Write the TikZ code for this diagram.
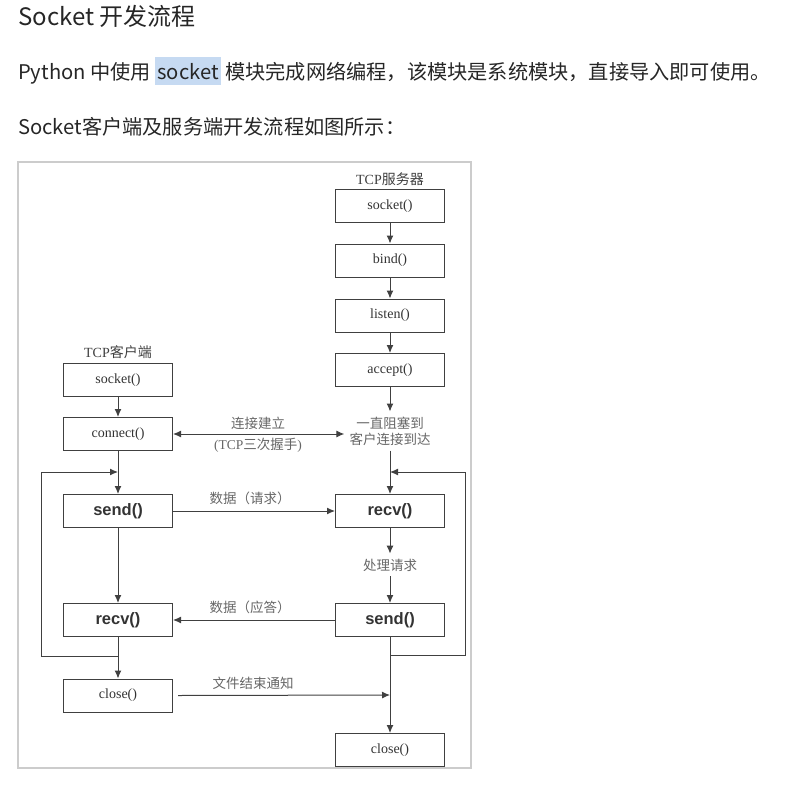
\documentclass[tikz,border=0pt]{standalone}
\usepackage{fontspec}
\setmainfont{Liberation Serif}
\newfontfamily\cjk{Noto Sans CJK SC}
\newfontfamily\uifont{Liberation Sans}
\usetikzlibrary{arrows.meta}
\definecolor{hilite}{HTML}{C6DAF2}

\begin{document}
\begin{tikzpicture}[x=1pt,y=-1pt,
	toptext/.style={inner sep=0pt, font=\cjk\fontsize{20.2}{24}\selectfont, text=black!85},
	box/.style={draw=black!75, line width=1pt, minimum width=109pt, minimum height=33pt, inner sep=0pt, font=\fontsize{14}{16}\selectfont, text=black!80},
	boldbox/.style={box, font=\uifont\bfseries\fontsize{16.5}{18}\selectfont},
	lbl/.style={inner sep=5pt, font=\cjk\fontsize{13.5}{16}\selectfont, text=black!60},
	flow/.style={draw=black!75, line width=1pt, -{Latex[length=8pt,width=7pt]}}]
	\useasboundingbox (0,0) rectangle (800,784);
	% page text
	\node[toptext, anchor=base west, font=\cjk\fontsize{24}{28}\selectfont] (title) at (18,26) {Socket 开发流程};
	\node[toptext, anchor=base west] (py) at (18,79) {Python 中使用};
	\node[toptext, anchor=base west, fill=hilite, inner xsep=2pt, inner ysep=6pt] (sockw) at ([xshift=4pt]py.base east) {socket};
	\node[toptext, anchor=base west] (rest) at ([xshift=4pt]sockw.base east) {模块完成网络编程，该模块是系统模块，直接导入即可使用。};
	\node[toptext, anchor=base west] (intro) at (18,134) {Socket客户端及服务端开发流程如图所示：};
	\draw[black!20, line width=1.5pt] (18,162) rectangle (471,768);
	% server
	\node[font=\fontsize{14}{16}\selectfont, text=black!75] (stitle) at (390,179) {TCP{\cjk 服务器}};
	\node[box] (ssock) at (390,206) {socket()};
	\node[box] (bind) at (390,260.5) {bind()};
	\node[box] (listen) at (390,315.5) {listen()};
	\node[box] (accept) at (390,370) {accept()};
	\node[lbl, align=center] (block) at (390,431) {一直阻塞到\\客户连接到达};
	\node[boldbox] (srecv) at (390,511) {recv()};
	\node[lbl] (proc) at (390,565) {处理请求};
	\node[boldbox] (ssend) at (390,620) {send()};
	\node[box] (sclose) at (390,750) {close()};
	% client
	\node[font=\fontsize{14}{16}\selectfont, text=black!75] (ctitle) at (118,352) {TCP{\cjk 客户端}};
	\node[box] (csock) at (118,380) {socket()};
	\node[box] (connect) at (118,434) {connect()};
	\node[boldbox] (csend) at (118,511) {send()};
	\node[boldbox] (crecv) at (118,620) {recv()};
	\node[box] (cclose) at (118,695.5) {close()};
	% links
	\foreach \a/\b in {ssock/bind, bind/listen, listen/accept, accept/block, block/srecv, srecv/proc, proc/ssend, ssend/sclose, csock/connect, connect/csend, csend/crecv, crecv/cclose}
		\draw[flow] (\a) -- (\b);
	\draw[flow, {Latex[length=8pt,width=7pt]}-{Latex[length=8pt,width=7pt]}] (connect.east) -- (connect.east -| block.west);
	\node[lbl] (connup) at (258,423) {连接建立};
	\node[lbl] (conndown) at (258,445) {{\rmfamily(TCP}三次握手{\rmfamily)}};
	\draw[flow] (csend) -- (srecv);
	\node[lbl] (req) at (250,498) {数据（请求）};
	\draw[flow] (ssend) -- (crecv);
	\node[lbl] (resp) at (250,607) {数据（应答）};
	\coordinate (fin) at (390,695);
	\draw[flow] ([xshift=5pt]cclose.east) -- (fin);
	\node[lbl] (eof) at (253,683) {文件结束通知};
	% loops
	\coordinate (cjoin) at (118,656); \coordinate (cback) at (118,472); \coordinate (cloop) at (41,472);
	\draw[flow] (cjoin) -| (cloop) -- (cback);
	\coordinate (sjoin) at (390,655); \coordinate (sback) at (390,472); \coordinate (sloop) at (465,472);
	\draw[flow] (sjoin) -| (sloop) -- (sback);
\end{tikzpicture}
\end{document}
